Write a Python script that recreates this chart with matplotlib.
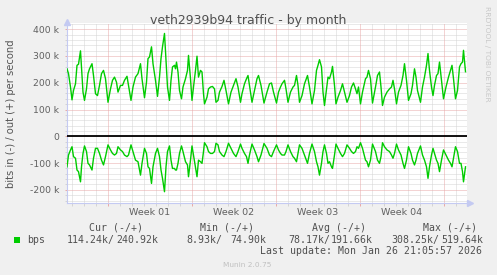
import matplotlib
matplotlib.use("Agg")
import matplotlib.pyplot as plt
from matplotlib.patches import Rectangle
import matplotlib.transforms as mtransforms

# ---- data (hours since graph start, values in k bits/s) ----
hours = [1, 4, 8, 11, 14, 18, 21, 24, 28, 30,
         33, 36, 40, 43, 46, 51, 54, 58, 62, 66,
         70, 74, 78, 83, 88, 92, 96, 100, 103, 108,
         112, 116, 121, 124, 129, 133, 138, 143, 148, 151,
         156, 160, 163, 166, 170, 173, 178, 182, 186, 189,
         192, 196, 199, 202, 206, 209, 212, 216, 218, 220,
         223, 226, 230, 233, 238, 242, 244, 248, 251, 254,
         258, 261, 264, 268, 271, 274, 276, 281, 284, 288,
         292, 296, 299, 303, 306, 311, 315, 319, 324, 329,
         334, 339, 343, 348, 351, 356, 360, 363, 366, 371,
         376, 381, 384, 389, 395, 401, 406, 410, 414, 420,
         424, 428, 431, 436, 439, 443, 448, 453, 456, 460,
         463, 466, 471, 476, 482, 486, 491, 496, 500, 503,
         506, 510, 513, 516, 520, 523, 526, 530, 532, 536,
         539, 543, 548, 552, 556, 561, 566, 570, 574, 578,
         581, 584, 588, 592, 598, 601, 604, 608, 612, 618,
         622, 626, 629, 632, 636, 641, 646, 650, 653, 656,
         660, 664, 669, 673, 676, 680, 684, 689, 692, 696,
         699, 702, 708, 712, 716, 720, 723, 726, 730, 733,
         736, 740, 743, 746, 750, 754, 759, 764, 768, 771,
         774, 778, 782, 786, 789, 792, 794, 798]

out_k = [252, 234, 184, 136, 171, 196, 265, 269, 319, 259,
         165, 134, 177, 234, 252, 271, 227, 159, 152, 190,
         234, 246, 215, 127, 177, 209, 221, 202, 165, 190,
         190, 209, 224, 190, 134, 184, 221, 234, 271, 215,
         144, 202, 290, 296, 334, 271, 209, 149, 221, 290,
         334, 384, 284, 184, 134, 209, 259, 265, 252, 277,
         240, 171, 140, 184, 215, 246, 302, 215, 134, 184,
         246, 299, 221, 246, 240, 159, 121, 146, 177, 184,
         186, 177, 127, 134, 165, 186, 209, 171, 121, 165,
         190, 215, 184, 127, 159, 196, 215, 227, 190, 127,
         171, 215, 227, 190, 124, 165, 196, 199, 165, 124,
         165, 184, 196, 209, 177, 127, 165, 184, 190, 227,
         190, 127, 152, 196, 227, 184, 121, 171, 246, 265,
         286, 259, 165, 115, 177, 221, 215, 240, 261, 190,
         121, 146, 171, 196, 165, 127, 152, 184, 199, 177,
         159, 184, 121, 165, 215, 221, 246, 215, 124, 184,
         227, 240, 184, 115, 146, 165, 177, 184, 209, 177,
         121, 165, 190, 227, 271, 209, 134, 159, 190, 252,
         221, 171, 127, 184, 221, 265, 309, 246, 184, 152,
         190, 227, 234, 277, 209, 140, 184, 221, 246, 265,
         215, 140, 171, 259, 271, 277, 321, 241]

in_k = [114, 70, 51, 39, 76, 82, 126, 132, 170, 114,
        64, 36, 57, 101, 107, 126, 82, 45, 45, 64,
        89, 107, 76, 32, 51, 64, 70, 64, 39, 51,
        57, 70, 76, 70, 32, 57, 89, 95, 145, 101,
        45, 64, 114, 120, 176, 114, 64, 45, 76, 126,
        157, 207, 114, 57, 36, 89, 120, 120, 126, 126,
        101, 64, 36, 57, 95, 107, 151, 89, 36, 70,
        114, 151, 89, 95, 101, 57, 24, 39, 57, 64,
        64, 57, 26, 32, 57, 70, 76, 57, 26, 45,
        64, 76, 57, 29, 45, 64, 76, 101, 70, 29,
        51, 76, 95, 70, 27, 45, 70, 76, 57, 32,
        51, 64, 70, 70, 57, 32, 57, 76, 82, 95,
        64, 32, 45, 70, 101, 64, 29, 57, 95, 114,
        145, 101, 57, 32, 64, 101, 95, 114, 120, 70,
        29, 45, 64, 76, 64, 32, 45, 57, 64, 57,
        39, 45, 24, 45, 89, 95, 114, 89, 29, 57,
        89, 101, 76, 24, 39, 51, 57, 70, 82, 64,
        29, 51, 70, 101, 120, 89, 39, 64, 89, 107,
        89, 64, 36, 70, 89, 114, 157, 114, 70, 45,
        64, 89, 101, 132, 89, 51, 70, 89, 101, 114,
        82, 39, 57, 101, 101, 132, 170, 114]

ytick_vals = [-200, -100, 0, 100, 200, 300, 400]
ytick_labels = ["-200 k", "-100 k", "0", "100 k", "200 k", "300 k", "400 k"]
week_labels = ["Week 01", "Week 02", "Week 03", "Week 04"]
legend_heads = ["Cur (-/+)", "Min (-/+)", "Avg (-/+)", "Max (-/+)"]
legend_in = ["114.24k/", "8.93k/", "78.17k/", "308.25k/"]
legend_out = ["240.92k", "74.90k", "191.66k", "519.64k"]
series_name = "bps"
title = "veth2939b94 traffic - by month"
ylabel = "bits in (-) / out (+) per second"
last_update = "Last update: Mon Jan 26 21:05:57 2026"

# ---- layout ----
W, H = 497, 275
fig = plt.figure(figsize=(W / 100, H / 100), dpi=100, facecolor="#F0F0F0")
def fx(px): return px / W
def fy(py): return 1 - py / H

L, R, T, B = 66.5, 466.5, 23.0, 202.7
ax = fig.add_axes([fx(L), fy(B), (R - L) / W, (B - T) / H])
ax.set_facecolor("white")
ax.set_xlim(0, 800)
ax.set_ylim(-248, 423)

minor_c = "#D4D4D4"
major_c = "#E8A8A8"
dot = (0, (1, 1))
lw1 = 0.72

# grid
day_lines = list(range(10, 800, 24))
week_lines = list(range(82, 800, 168))
for x in day_lines:
    if x not in week_lines:
        ax.axvline(x, color=minor_c, lw=lw1, ls=dot, zorder=1)
for y in range(-240, 421, 20):
    if y % 100 != 0:
        ax.axhline(y, color=minor_c, lw=lw1, ls=dot, zorder=1)
for x in week_lines:
    ax.axvline(x, color=major_c, lw=lw1, ls=dot, zorder=1.5)
for y in ytick_vals:
    ax.axhline(y, color=major_c, lw=lw1, ls=dot, zorder=1.5)

# data
ax.plot(hours, out_k, color="#00CC00", lw=1.0, zorder=3)
ax.plot(hours, [-v for v in in_k], color="#00CC00", lw=1.0, zorder=3)
ax.axhline(0, color="black", lw=1.3, zorder=4)

# axes / ticks
for s in ["top", "right"]:
    ax.spines[s].set_visible(False)
for s in ["left", "bottom"]:
    ax.spines[s].set_color("#C4CAF2")
    ax.spines[s].set_linewidth(0.8)
ax.set_yticks(ytick_vals)
ax.set_yticklabels(ytick_labels, fontsize=6.7, color="#606060")
ax.set_yticks(list(range(-240, 421, 20)), minor=True)
ax.tick_params(axis="y", which="major", length=1.8, width=0.7, color=major_c, pad=3.6)
ax.tick_params(axis="y", which="minor", length=1.8, width=0.7, color=minor_c)
ax.set_xticks(week_lines)
ax.set_xticklabels([])
ax.set_xticks(day_lines, minor=True)
ax.tick_params(axis="x", which="major", length=1.8, width=0.7, color=major_c)
ax.tick_params(axis="x", which="minor", length=1.8, width=0.7, color=minor_c)

# week labels
trans = mtransforms.blended_transform_factory(ax.transData, fig.transFigure)
for i, lab in enumerate(week_labels):
    ax.text(week_lines[i] + 84, fy(212.3), lab, transform=trans, ha="center",
            va="center", fontsize=6.8, color="#606060")

# axis arrows
fig.lines.append(plt.Line2D([fx(L)], [fy(21.5)], marker="^", ms=4.5, color="#C4CAF2",
                            mec="#C4CAF2", transform=fig.transFigure))
fig.lines.append(plt.Line2D([fx(469.5)], [fy(B)], marker=">", ms=4.5, color="#C4CAF2",
                            mec="#C4CAF2", transform=fig.transFigure))

# texts
fig.text(fx(247.9), fy(24), title, ha="center", va="baseline", fontsize=9.0, color="#505050")
fig.text(fx(10.7), fy(114), ylabel, rotation=90, ha="center", va="center",
         fontsize=7.2, color="#555555")
fig.text(fx(487.3), fy(53.5), "RRDTOOL / TOBI OETIKER", rotation=270, ha="center",
         va="center", fontsize=5.4, color="#C8C8C8")

mono = "DejaVu Sans Mono"
tc = "#505050"
fs_m = 7.1
head_x = [89.3, 200.0, 312.0, 422.7]
in_x = [66.7, 186.7, 288.7, 391.0]
out_x = [116.7, 230.7, 330.3, 441.3]
for i in range(4):
    fig.text(fx(head_x[i]), fy(231), legend_heads[i], family=mono, fontsize=fs_m,
             color=tc, va="baseline", ha="left")
    fig.text(fx(in_x[i]), fy(243), legend_in[i], family=mono, fontsize=fs_m,
             color=tc, va="baseline", ha="left")
    fig.text(fx(out_x[i]), fy(243), legend_out[i], family=mono, fontsize=fs_m,
             color=tc, va="baseline", ha="left")
fig.text(fx(27), fy(243), series_name, family=mono, fontsize=fs_m, color=tc,
         va="baseline", ha="left")
fig.patches.append(Rectangle((fx(14), fy(242.5)), 6 / W, 6 / H, transform=fig.transFigure,
                             facecolor="#00CC00", edgecolor="none"))
fig.text(fx(482.5), fy(254.3), last_update, family=mono, fontsize=fs_m, color=tc,
         va="baseline", ha="right")
fig.text(fx(223.3), fy(267), "Munin 2.0.75", fontsize=5.3, color="#C0C0C0",
         va="baseline", ha="left")

fig.savefig("out.png", dpi=100, facecolor=fig.get_facecolor())
